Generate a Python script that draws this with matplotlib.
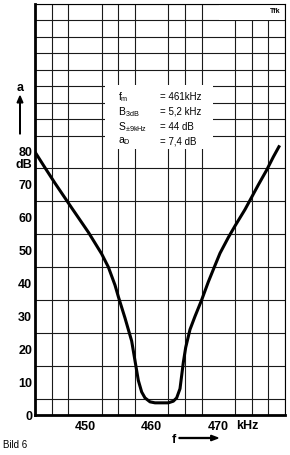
import matplotlib
matplotlib.use("Agg")
from matplotlib import pyplot as plt
from matplotlib.patches import Rectangle, FancyArrow
import numpy as np

# Selectivity curve of the IF filter (attenuation a vs. frequency f)
freq_khz = [442.5, 444, 445.5, 447, 448, 449.25, 450.5, 451.5, 452.5, 453.5,
            454.5, 455, 456, 457, 457.5, 458, 458.5, 459, 459.75, 460.5,
            461.5, 462.5, 463.25, 463.75, 464.25, 464.5, 464.75, 465.1,
            465.75, 466.5, 467.5, 468.5, 469.5, 470.25, 471.5, 472.5, 474,
            476, 477.25, 478.25, 479.2]
atten_db = [80, 75.2, 70.5, 66, 63, 59.3, 55.6, 52.3, 49, 45,
            39.5, 36, 29.5, 22.5, 16.5, 10.5, 7, 5.2, 4, 3.7,
            3.7, 3.7, 4.2, 5.2, 8, 12, 16, 20.5,
            26, 30, 35, 40.5, 45.5, 49.2, 54, 57.5, 62.5,
            70, 74.5, 78.5, 82]

y_ticks = [0, 10, 20, 30, 40, 50, 60, 70, 80]
x_ticks = [450, 460, 470]
x_tick_labels = ["450", "460", "470"]

info_names = [r"$\mathregular{f_m}$", r"$\mathregular{B_{3dB}}$",
              r"$\mathregular{S_{\pm 9kHz}}$", r"$\mathregular{a_D}$"]
info_values = ["= 461kHz", "= 5,2 kHz", "= 44 dB", "= 7,4 dB"]

plt.rcParams['font.family'] = ['Liberation Sans', 'DejaVu Sans']
plt.rcParams['mathtext.fontset'] = 'custom'
plt.rcParams['mathtext.rm'] = 'Liberation Sans'

fig = plt.figure(figsize=(2.9, 4.55), dpi=100)
ax = fig.add_axes([35 / 290, 1 - 415 / 455, 250 / 290, 411 / 455])

ax.set_xlim(442.5, 480)
ax.set_ylim(0, 125)

# grid every 2.5 kHz and 5 dB
ax.set_xticks(np.arange(442.5, 480.1, 2.5), minor=True)
ax.set_yticks(np.arange(0, 125.1, 5), minor=True)
ax.grid(True, which='minor', color='#1a1a1a', linewidth=0.8)
ax.set_axisbelow(True)

ax.set_xticks(x_ticks)
ax.set_xticklabels(x_tick_labels, fontsize=9, fontweight='bold')
ax.set_yticks(y_ticks)
ax.set_yticklabels([str(v) for v in y_ticks], fontsize=9, fontweight='bold')
ax.tick_params(which='both', length=0, pad=2)
ax.tick_params(axis='x', pad=4)

for side in ['left', 'bottom']:
    ax.spines[side].set_linewidth(2.0)
for side in ['top', 'right']:
    ax.spines[side].set_linewidth(0.8)

ax.plot(freq_khz, atten_db, color='black', linewidth=2.2, zorder=3,
        solid_capstyle='butt', solid_joinstyle='round')

# white label fields over the grid
ax.add_patch(Rectangle((453, 81), 16.2, 19.5, facecolor='white',
                       edgecolor='none', zorder=1.5))
ax.add_patch(Rectangle((470.1, 120.2), 9.8, 4.6, facecolor='white',
                       edgecolor='none', zorder=1.5))
ax.text(479.3, 122.6, "Tfk", fontsize=5, fontweight='bold', ha='right',
        va='center', zorder=4)

for i in range(len(info_names)):
    yy = 96.7 - i * 4.5
    ax.text(455, yy, info_names[i], fontsize=7.5, va='center', zorder=4)
    ax.text(461.2, yy, info_values[i], fontsize=7, va='center', zorder=4)

# axis annotations
fig.text(32 / 290, 1 - 165 / 455, "dB", fontsize=9, fontweight='bold',
         ha='right', va='center')
fig.text(236 / 290, 1 - 426 / 455, "kHz", fontsize=9, fontweight='bold',
         ha='left', va='center')
fig.text(20 / 290, 1 - 88 / 455, "a", fontsize=9, fontweight='bold',
         ha='center', va='center')
fig.patches.append(FancyArrow(
    20 / 290, 1 - 134 / 455, 0, 38 / 455, width=0.002, head_width=0.02,
    head_length=0.015, color='black', transform=fig.transFigure,
    length_includes_head=True))
fig.text(174 / 290, 1 - 440 / 455, "f", fontsize=9, fontweight='bold',
         ha='center', va='center')
fig.patches.append(FancyArrow(
    179 / 290, 1 - 438 / 455, 39 / 290, 0, width=0.002, head_width=0.012,
    head_length=0.025, color='black', transform=fig.transFigure,
    length_includes_head=True))
fig.text(3 / 290, 1 - 445 / 455, "Bild 6", fontsize=7, ha='left',
         va='center')

fig.savefig("out.png", dpi=100)
